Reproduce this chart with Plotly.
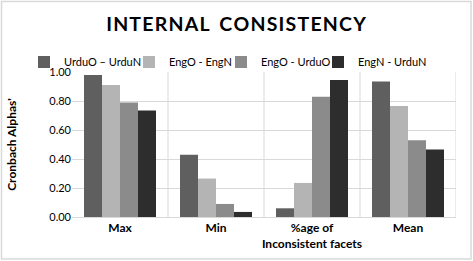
import plotly.graph_objects as go

categories = ["Max", "Min", "%age of<br>Inconsistent facets", "Mean"]
series_names = ["UrduO – UrduN", "EngO - EngN", "EngO - UrduO", "EngN - UrduN"]
urduO_urduN = [0.98, 0.43, 0.06, 0.935]
engO_engN = [0.91, 0.265, 0.235, 0.765]
engO_urduO = [0.79, 0.09, 0.83, 0.53]
engN_urduN = [0.735, 0.035, 0.945, 0.465]
colors = ["#5f5f5f", "#b4b4b4", "#8b8b8b", "#2d2d2d"]
y_ticks = [0, 0.2, 0.4, 0.6, 0.8, 1.0]

W, H = 473, 261
L, R, T, B = 72, 17, 72, 44
pw, ph = W - L - R, H - T - B
FONT = "Lato, Open Sans, sans-serif"

legend_ids = ["legend", "legend2", "legend3", "legend4"]
legend_text_x = [64, 169, 261, 358]

fig = go.Figure()
for name, vals, c, lg in zip(series_names, [urduO_urduN, engO_engN, engO_urduO, engN_urduN], colors, legend_ids):
    fig.add_trace(go.Bar(x=categories, y=vals, name=name, legend=lg,
                         marker=dict(color=c, line=dict(width=0))))

def px2x(p):
    return (p - L) / pw

def py2y(p):
    return (H - B - p) / ph

shapes = []
for i in range(1, len(categories) + 1):
    shapes.append(dict(type="line", xref="x", yref="paper", x0=i - 0.5, x1=i - 0.5, y0=0, y1=1,
                       line=dict(color="#d9d9d9", width=1), layer="below"))
shapes.append(dict(type="rect", xref="paper", yref="paper",
                   x0=px2x(1.5), x1=px2x(471), y0=py2y(259), y1=py2y(1.5),
                   line=dict(color="#d9d9d9", width=1.5)))

title_text = "\u200a".join(list("INTERNAL")) + "\u2002" + "\u200a".join(list("CONSISTENCY"))

legend_layouts = {}
for lg, tx in zip(legend_ids, legend_text_x):
    legend_layouts[lg] = dict(orientation="h", x=(tx - 40) / W, xanchor="left", xref="container",
                              y=1 - 62 / H, yanchor="middle", yref="container",
                              font=dict(size=11), itemwidth=30,
                              bgcolor="rgba(0,0,0,0)")

fig.update_layout(
    width=W, height=H,
    margin=dict(l=L, r=R, t=T, b=B, autoexpand=False),
    paper_bgcolor="white", plot_bgcolor="white",
    barmode="group", bargap=0.25, bargroupgap=0,
    font=dict(family=FONT, size=11, color="#000000"),
    title=dict(text="<b>" + title_text + "</b>",
               x=236 / W, xref="container", xanchor="center", y=1 - 24 / H, yanchor="middle",
               font=dict(size=19.5, family=FONT, color="#000")),
    showlegend=True,
    xaxis=dict(showgrid=False, showline=True, linecolor="#d9d9d9", ticks="",
               tickfont=dict(size=12, family=FONT),
               tickprefix="<b>", ticksuffix="</b>", range=[-0.5, 3.5]),
    yaxis=dict(range=[0, 1.0], tickvals=y_ticks, tickformat=".2f", gridcolor="#d9d9d9",
               showline=False, zeroline=False, ticks="", tickfont=dict(size=11),
               title=dict(text="<b>Cronbach Alphas'</b>", font=dict(size=12), standoff=30)),
    shapes=shapes,
    **legend_layouts,
)
fig.write_html("out.html", config={"displayModeBar": False},
               post_script="document.body.style.margin='0';")
